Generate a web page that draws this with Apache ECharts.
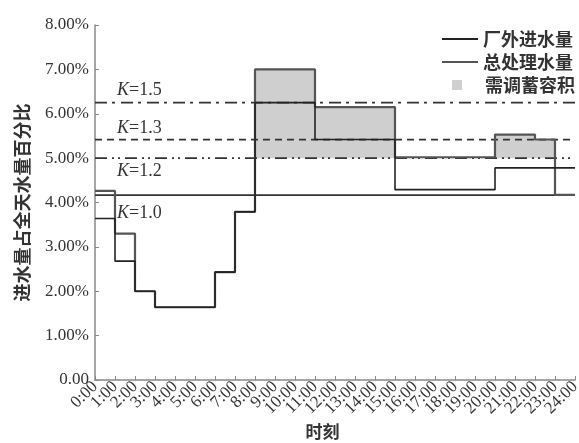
<!DOCTYPE html>
<html><head><meta charset="utf-8">
<script src="https://cdn.jsdelivr.net/npm/echarts@6/dist/echarts.min.js"></script>
<style>html,body{margin:0;padding:0;background:#fff}#c{width:579px;height:443px}</style>
</head><body><div id="c"></div>
<script>
// hourly values 0:00-23:00 (percent of daily volume)
var hourLabels = ['0:00','1:00','2:00','3:00','4:00','5:00','6:00','7:00','8:00','9:00','10:00','11:00','12:00','13:00','14:00','15:00','16:00','17:00','18:00','19:00','20:00','21:00','22:00','23:00','24:00'];
var inflow = [3.64,2.68,2.00,1.64,1.64,1.64,2.43,3.79,6.25,6.25,6.25,5.42,5.42,5.42,5.42,4.29,4.29,4.29,4.29,4.29,4.78,4.78,4.78,4.78];
var treated = [4.26,3.30,2.00,1.64,1.64,1.64,2.43,3.79,7.00,7.00,7.00,6.15,6.15,6.15,6.15,5.02,5.02,5.02,5.02,5.02,5.53,5.53,5.42,4.17];
var kNames = ['1.5','1.3','1.2','1.0'];
var kValues = [6.25,5.417,5.0,4.167];
var fillStart = [8,11,20,22];
var fillEnd = [11,15,22,23];
var fillTop = [7.00,6.15,5.53,5.42];
var fillBase = 5.0;
var yTicks = ['0.00','1.00%','2.00%','3.00%','4.00%','5.00%','6.00%','7.00%','8.00%'];

function stepData(arr){
  var d = [];
  for (var i=0;i<arr.length;i++) d.push([i, arr[i]]);
  d.push([arr.length, arr[arr.length-1]]);
  return d;
}
var serif = 'Liberation Serif';
var cjk = 'Noto Sans CJK SC';
var dashTypes = [[12,5,3,6],[7,5],[12,5,2,4,2,5],'solid'];
var labelOffsets = [[2,-12],[2,-11],[2,13],[2,18]];

var series = [];
series.push({
  name:'需调蓄容积', type:'custom', z:1,
  itemStyle:{color:'#cfcfcf'},
  encode:{x:[0,1], y:2},
  data: fillStart.map(function(s,i){return [s, fillEnd[i], fillTop[i]];}),
  renderItem:function(params, api){
    var p1 = api.coord([api.value(0), api.value(2)]);
    var p2 = api.coord([api.value(1), fillBase]);
    return {type:'rect', shape:{x:p1[0], y:p1[1], width:p2[0]-p1[0], height:p2[1]-p1[1]}, style:{fill:'#cfcfcf'}};
  }
});
kValues.forEach(function(k,i){
  series.push({
    name:'K'+kNames[i], type:'line', z:3, symbol:'none', silent:true,
    data:[[0,k],[hourLabels.length-1,k]],
    lineStyle:{color:'#333', width:1.6, type:dashTypes[i]},
    markPoint:{
      symbol:'circle', symbolSize:0, silent:true,
      data:[{coord:[1,k]}],
      label:{show:true, position:'right', offset:labelOffsets[i], distance:0,
        formatter:'{i|K}{n|=' + kNames[i] + '}',
        rich:{i:{fontFamily:serif, fontStyle:'italic', fontSize:18, color:'#333'},
              n:{fontFamily:serif, fontSize:18, color:'#333'}}}
    }
  });
});
series.push({
  name:'厂外进水量', type:'line', step:'end', symbol:'none', z:5,
  color:'#222', data:stepData(inflow),
  lineStyle:{color:'#222', width:1.6}
});
series.push({
  name:'总处理水量', type:'line', step:'end', symbol:'none', z:4,
  color:'#555', data:stepData(treated),
  lineStyle:{color:'#555', width:2.2}
});

var chart = echarts.init(document.getElementById('c'), null, {renderer:'canvas'});
chart.setOption({
  backgroundColor:'#fff',
  animation:false,
  grid:{left:95, right:4, top:25, bottom:63, containLabel:false, outerBoundsMode:'none'},
  legend:[{
    data:['厂外进水量','总处理水量'], orient:'vertical', left:437, top:25,
    icon:'rect', itemWidth:36, itemHeight:2, itemGap:5,
    textStyle:{fontFamily:cjk, fontSize:18, fontWeight:'bold', color:'#333', lineHeight:18},
    selectedMode:false
  },{
    data:['需调蓄容积'], orient:'vertical', left:447, top:71,
    icon:'rect', itemWidth:10, itemHeight:10,
    textStyle:{fontFamily:cjk, fontSize:18, fontWeight:'bold', color:'#333', lineHeight:18, padding:[0,0,0,18]},
    selectedMode:false
  }],
  xAxis:{
    type:'category', data:hourLabels, boundaryGap:false,
    name:'时刻', nameLocation:'middle', nameGap:43, nameMoveOverlap:false,
    nameTextStyle:{fontFamily:cjk, fontSize:17, fontWeight:'bold', color:'#333', padding:[0,25,0,0]},
    axisLine:{show:true, lineStyle:{color:'#888', width:1.5}},
    axisTick:{show:true, inside:true, length:4, interval:0, lineStyle:{color:'#888'}},
    splitLine:{show:false},
    axisLabel:{rotate:45, margin:4, interval:0, fontFamily:serif, fontSize:17, color:'#333', hideOverlap:false}
  },
  yAxis:{
    type:'value', min:0, max:8, interval:1,
    name:'进水量占全天水量百分比', nameLocation:'middle', nameGap:64, nameMoveOverlap:false,
    nameTextStyle:{fontFamily:cjk, fontSize:18, fontWeight:'bold', color:'#333'},
    axisLine:{show:true, lineStyle:{color:'#888', width:1.5}},
    axisTick:{show:true, inside:true, length:4, lineStyle:{color:'#888'}},
    splitLine:{show:false},
    axisLabel:{margin:6, fontFamily:serif, fontSize:17, color:'#333',
      formatter:function(v){return yTicks[Math.round(v)];}}
  },
  series:series
});
</script></body></html>
